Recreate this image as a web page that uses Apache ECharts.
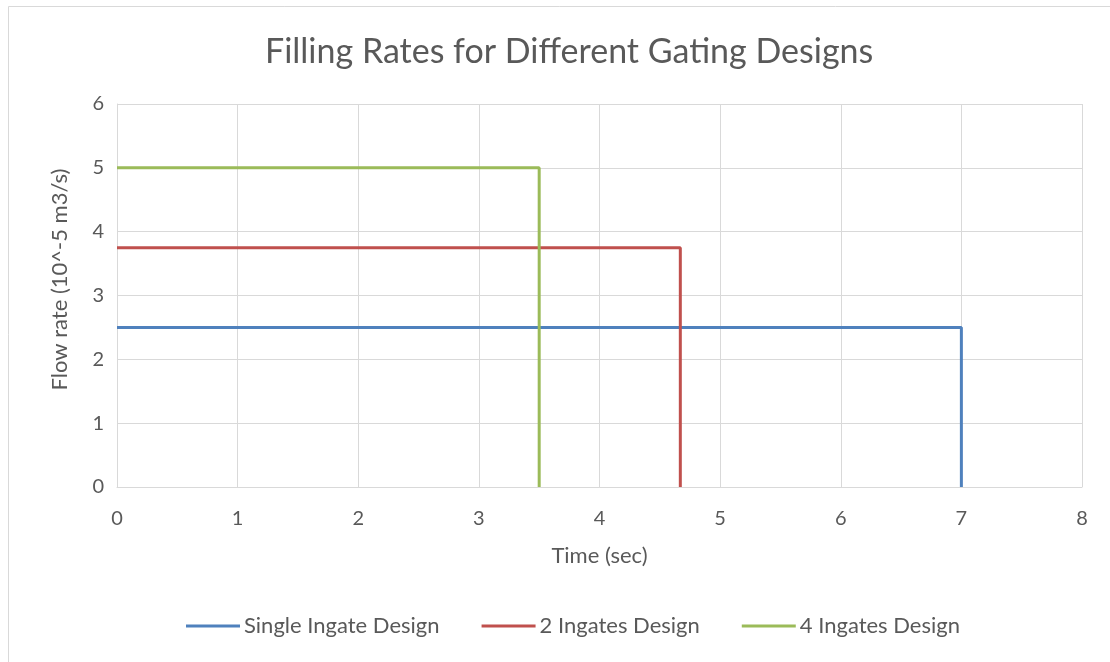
<!DOCTYPE html>
<html><head><meta charset="utf-8">
<script src="https://cdn.jsdelivr.net/npm/echarts@6/dist/echarts.min.js"></script>
<style>html,body{margin:0;padding:0;background:#fff}#c{width:1110px;height:662px}</style>
</head><body><div id="c"></div>
<script>
const seriesNames = ['Single Ingate Design', '2 Ingates Design', '4 Ingates Design'];
const singleX = [0, 7, 7];
const singleY = [2.5, 2.5, 0];
const twoX = [0, 4.67, 4.67];
const twoY = [3.75, 3.75, 0];
const fourX = [0, 3.5, 3.5];
const fourY = [5, 5, 0];
const colors = ['#4F81BD', '#C0504D', '#9BBB59'];
const xTicks = [0,1,2,3,4,5,6,7,8];
const yTicks = [0,1,2,3,4,5,6];

const pairs = (xs, ys) => xs.map((x, i) => [x, ys[i]]);
const txt = '#595959';
const font = 'Lato';
const chart = echarts.init(document.getElementById('c'));
chart.setOption({
  animation: false,
  backgroundColor: '#fff',
  color: colors,
  graphic: [{type:'rect', shape:{x:8.5,y:6.5,width:1200,height:700}, style:{fill:'none', stroke:'#d9d9d9', lineWidth:1}, silent:true}],
  title: {text:'Filling Rates for Different Gating Designs', left:260, top:30,
    textStyle:{color:txt, fontSize:34, fontWeight:'normal', fontFamily:font}},
  grid: {left:117, right:28, top:104, bottom:175},
  legend: {bottom:20, left:181, icon:'rect', itemWidth:54, itemHeight:3, itemGap:42,
    textStyle:{color:txt, fontSize:22, fontFamily:font, padding:[0,0,0,-1]},
    data: seriesNames},
  xAxis: {type:'value', min:xTicks[0], max:xTicks[xTicks.length-1], interval:1,
    name:'Time (sec)', nameLocation:'middle', nameGap:58,
    nameTextStyle:{color:txt, fontSize:22, fontFamily:font},
    axisLine:{show:true, lineStyle:{color:'#d9d9d9'}}, axisTick:{show:false},
    axisLabel:{color:txt, fontSize:20, fontFamily:font, margin:22},
    splitLine:{show:true, lineStyle:{color:'#d9d9d9', width:1}}},
  yAxis: {type:'value', min:yTicks[0], max:yTicks[yTicks.length-1], interval:1,
    name:'Flow rate (10^-5 m3/s)', nameLocation:'middle', nameGap:46,
    nameTextStyle:{color:txt, fontSize:22, fontFamily:font, padding:[0,0,0,32]},
    axisLine:{show:true, lineStyle:{color:'#d9d9d9'}}, axisTick:{show:false},
    axisLabel:{color:txt, fontSize:20, fontFamily:font, margin:13},
    splitLine:{show:true, lineStyle:{color:'#d9d9d9', width:1}}},
  series: [
    {name:seriesNames[0], type:'line', data:pairs(singleX, singleY), showSymbol:false, lineStyle:{width:3}},
    {name:seriesNames[1], type:'line', data:pairs(twoX, twoY), showSymbol:false, lineStyle:{width:3}},
    {name:seriesNames[2], type:'line', data:pairs(fourX, fourY), showSymbol:false, lineStyle:{width:3}}
  ]
});
</script></body></html>
